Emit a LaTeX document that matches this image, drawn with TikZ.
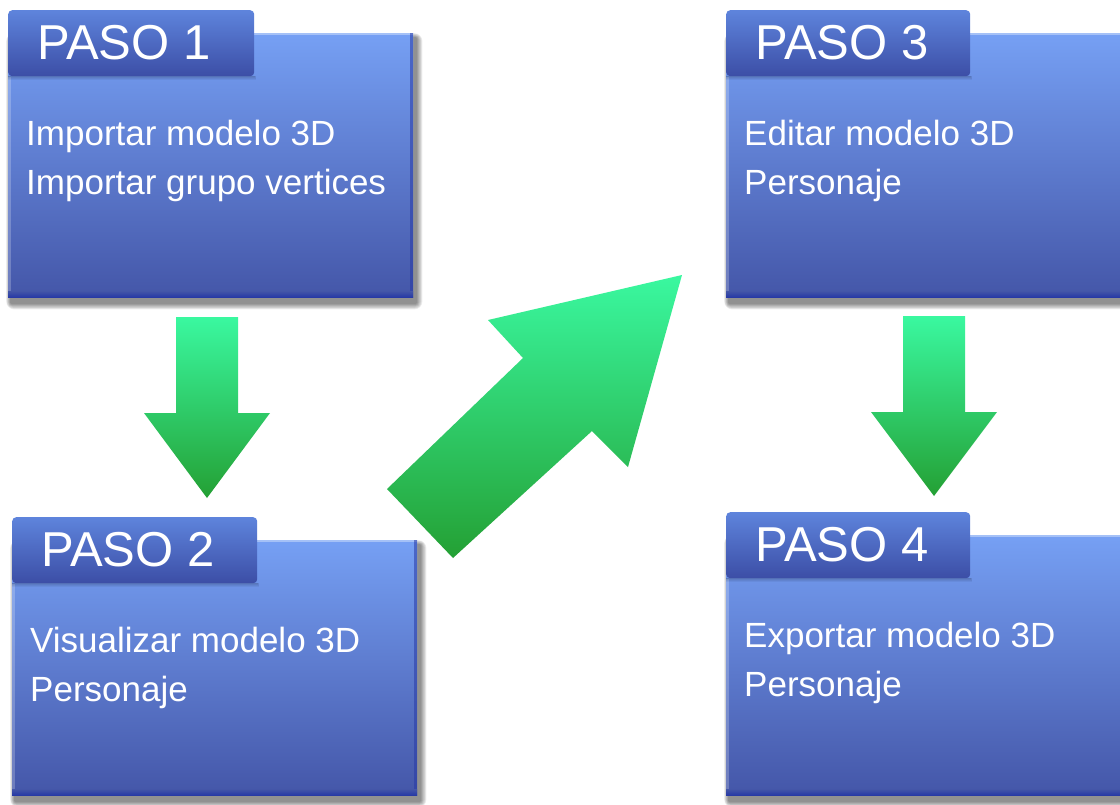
\documentclass[tikz,border=0pt]{standalone}
\usepackage{fontspec}
\setmainfont{Liberation Sans}
\usetikzlibrary{calc}

\definecolor{bodytop}{RGB}{118,160,244}
\definecolor{bodybot}{RGB}{68,86,168}
\definecolor{tabtop}{RGB}{94,132,220}
\definecolor{tabbot}{RGB}{60,78,166}
\definecolor{edgeblue}{RGB}{40,58,165}
\definecolor{greentop}{RGB}{58,248,160}
\definecolor{greenbot}{RGB}{36,160,52}

\tikzset{
  stepbody/.style={top color=bodytop, bottom color=bodybot, inner sep=0pt, anchor=north west},
  steptab/.style={top color=tabtop, bottom color=tabbot, rounded corners=4pt, inner sep=0pt, anchor=north west},
  flow/.style={top color=greentop, bottom color=greenbot},
  titletext/.style={text=white, font=\fontsize{49}{52}\selectfont, anchor=base west, inner sep=0pt},
  linetext/.style={text=white, font=\fontsize{35}{40}\selectfont, anchor=base west, inner sep=0pt},
}

% #1 name, #2 left, #3 body top, #4 body right, #5 body bottom,
% #6 tab right, #7 title, #8 first line, #9 second line
\newcommand\pasocard[9]{%
  % soft drop shadow
  \foreach \k in {1,...,8}{
    \fill[black, opacity=0.065, rounded corners=\k pt]
      (#2+3-\k*0.6, #3+5-\k*0.6) rectangle (#4+3+\k*0.8, #5+6+\k*0.8);
  }
  % body
  \node[stepbody, minimum width=#4-#2, minimum height=#5-#3] (#1) at (#2,#3) {};
  \fill[white, opacity=0.35] (#2,#3) rectangle (#4,#3+2);
  \fill[white, opacity=0.22] (#2,#3+44) rectangle (#2+3,#5-6);
  \fill[edgeblue, opacity=0.55] (#4-3,#3) rectangle (#4,#5);
  \shade[top color=bodybot, bottom color=edgeblue] (#2,#5-6) rectangle (#4,#5);
  % tab shadow and tab
  \foreach \k in {1,...,4}{
    \fill[black, opacity=0.05] (#2,#3+43) rectangle (#6+\k*0.5,#3+43+\k);
  }
  \node[steptab, minimum width=#6-#2, minimum height=66] (#1tab) at (#2,#3-23) {};
  % texts
  \node[titletext] (#1title) at (#2+29,#3+26) {#7};
  \node[linetext] (#1a) at (#2+18,#3+112) {#8};
  \node[linetext] (#1b) at (#2+18,#3+161) {#9};
}

\begin{document}
\begin{tikzpicture}[x=1pt, y=-1pt]
  \useasboundingbox (0,0) rectangle (1120,804);
  \fill[white] (0,0) rectangle (1120,804);
  \clip (0,0) rectangle (1120,804);

  \pasocard{p1}{8}{33}{413}{297}{254}{PASO 1}{Importar modelo 3D}{Importar grupo vertices}
  \pasocard{p2}{12}{540}{417}{795}{257}{PASO 2}{Visualizar modelo 3D}{Personaje}
  \pasocard{p3}{726}{33}{1150}{297}{970}{PASO 3}{Editar modelo 3D}{Personaje}
  \pasocard{p4}{726}{535}{1150}{795}{970}{PASO 4}{Exportar modelo 3D}{Personaje}

  % block arrows between the steps
  \shade[flow] (176,317) -- (238,317) -- (238,413) -- (270,413)
    -- (207,498) -- (144,413) -- (176,413) -- cycle;
  \shade[flow] (903,316) -- (965,316) -- (965,412) -- (997,412)
    -- (934,496) -- (871,412) -- (903,412) -- cycle;
  \shade[flow] (387,489) -- (523,358) -- (488,320) -- (682,275)
    -- (628,467) -- (592,431) -- (453,558) -- cycle;
\end{tikzpicture}
\end{document}
